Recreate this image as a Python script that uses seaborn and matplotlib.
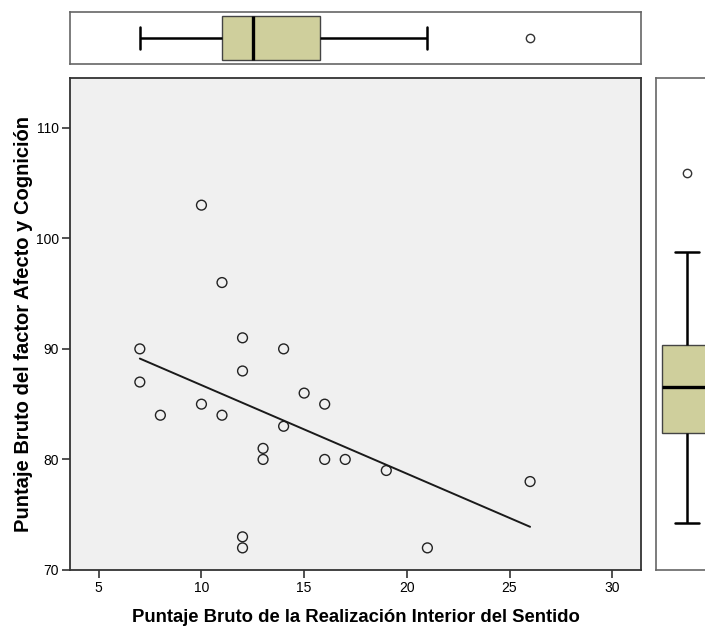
import matplotlib
matplotlib.use("Agg")
import matplotlib.pyplot as plt
import pandas as pd
import seaborn as sns

# raw scores
realizacion = [7, 7, 8, 10, 10, 11, 11, 12, 12, 12, 12, 13, 13, 14, 14, 15, 16, 16, 17, 19, 21, 26]
afecto = [90, 87, 84, 103, 85, 96, 84, 91, 88, 73, 72, 81, 80, 90, 83, 86, 85, 80, 80, 79, 72, 78]
x_ticks = [5, 10, 15, 20, 25, 30]
y_ticks = [70, 80, 90, 100, 110]

df = pd.DataFrame({"x": realizacion, "y": afecto})

sns.set_style("white")
plt.rcParams["font.family"] = ["Liberation Sans", "DejaVu Sans"]
plt.rcParams["text.color"] = "black"
plt.rcParams["axes.labelcolor"] = "black"
plt.rcParams["xtick.color"] = "black"
plt.rcParams["ytick.color"] = "black"

W, H = 705, 628
fig = plt.figure(figsize=(W / 100, H / 100), dpi=100)
ax = fig.add_axes([70 / W, 58 / H, 571 / W, 492 / H])
ax_top = fig.add_axes([70 / W, (H - 64) / H, 571 / W, 52 / H])
ax_right = fig.add_axes([656 / W, 58 / H, 62 / W, 492 / H])

box_color = "#cfcf9c"
box_kw = dict(
    saturation=1,
    boxprops=dict(edgecolor="#444444", linewidth=1),
    whiskerprops=dict(color="black", linewidth=1.8),
    capprops=dict(color="black", linewidth=1.8),
    medianprops=dict(color="black", linewidth=2.4),
    flierprops=dict(marker="o", markerfacecolor="white", markeredgecolor="#333333",
                    markersize=6, markeredgewidth=1),
)

# main scatter + linear fit
ax.set_facecolor("#f0f0f0")
sns.scatterplot(data=df, x="x", y="y", ax=ax, s=50, facecolor="none",
                edgecolor="#222222", linewidth=1)
sns.regplot(data=df, x="x", y="y", ax=ax, scatter=False, ci=None,
            line_kws=dict(color="#1a1a1a", linewidth=1.4))
ax.set_xlim(3.6, 31.4)
ax.set_ylim(70, 114.5)
ax.set_xticks(x_ticks)
ax.set_yticks(y_ticks)
ax.set_xticklabels(x_ticks, fontsize=10)
ax.set_yticklabels(y_ticks, fontsize=10)
ax.tick_params(axis="both", direction="out", length=6, width=1.2, color="#333333",
               left=True, bottom=True, pad=2)
for s in ax.spines.values():
    s.set_color("#333333")
    s.set_linewidth(1.3)
ax.set_xlabel("Puntaje Bruto de la Realización Interior del Sentido",
              fontsize=13.3, fontweight="bold")
ax.set_ylabel("Puntaje Bruto del factor Afecto y Cognición",
              fontsize=14.5, fontweight="bold")
ax.xaxis.set_label_coords(0.5, -0.079)
ax.yaxis.set_label_coords(-0.064, 0.5)

# marginal box plots
sns.boxplot(x=df["x"], ax=ax_top, color=box_color, width=0.85, **box_kw)
ax_top.set_xlim(3.6, 31.4)
ax_top.set_ylim(0.5, -0.5)

sns.boxplot(y=df["y"], ax=ax_right, color=box_color, width=0.8, **box_kw)
ax_right.set_ylim(67.84, 111.4)
ax_right.set_xlim(-0.5, 0.5)

for a in (ax_top, ax_right):
    a.set_xticks([])
    a.set_yticks([])
    a.set_xlabel("")
    a.set_ylabel("")
    for s in a.spines.values():
        s.set_color("#666666")
        s.set_linewidth(1.2)

fig.savefig("out.png", dpi=100)
